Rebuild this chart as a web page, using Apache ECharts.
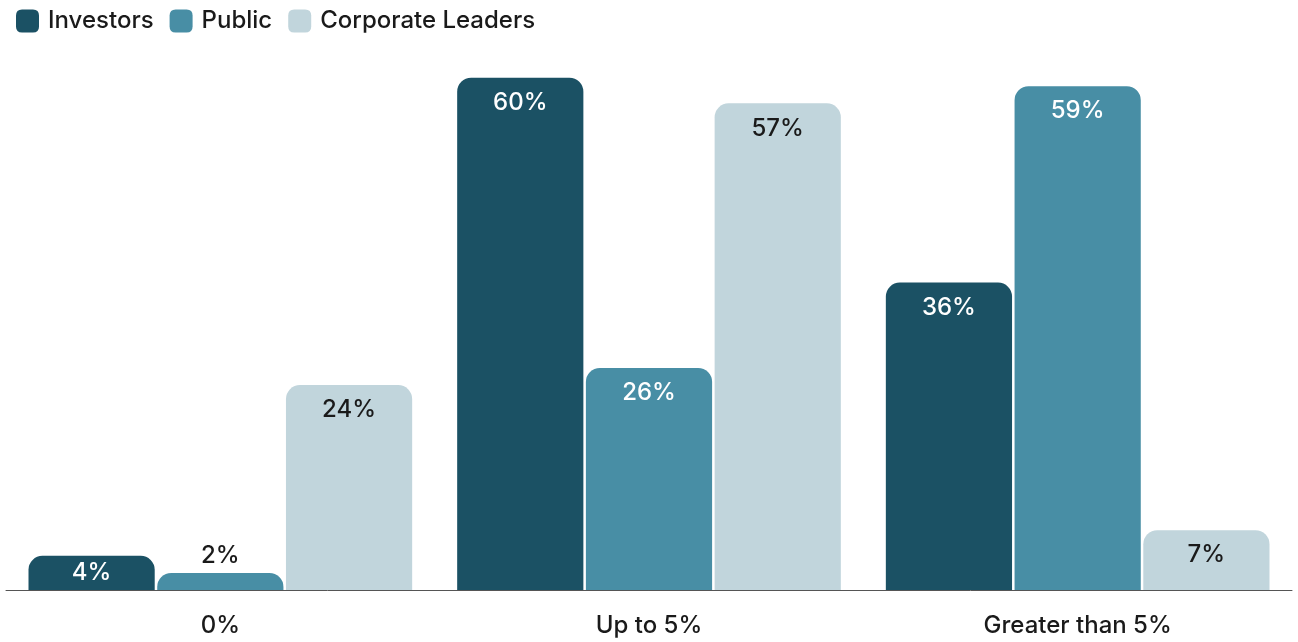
<!DOCTYPE html>
<html>
<head>
<meta charset="utf-8">
<script src="https://cdn.jsdelivr.net/npm/echarts@6/dist/echarts.min.js"></script>
<style>
  html, body { margin: 0; padding: 0; background: #ffffff; }
  #chart { width: 1298px; height: 642px; }
</style>
</head>
<body>
<div id="chart"></div>
<script>
// Share of each group choosing each option
const categories = ['0%', 'Up to 5%', 'Greater than 5%'];
const investors = [4, 60, 36];
const publicVals = [2, 26, 59];
const corporateLeaders = [24, 57, 7];
const seriesNames = ['Investors', 'Public', 'Corporate Leaders'];
const colors = ['#1b5164', '#488ea5', '#c1d5dc'];
const labelColors = ['#ffffff', '#ffffff', '#1a1a1a'];

const FONT = 'Inter, Lato, sans-serif';

function labelFor(v, idx) {
  // small bars get their label centred, tiny ones sit above the bar
  if (v <= 2) return { position: 'top', distance: 5, color: '#1a1a1a' };
  if (v <= 5) return { position: 'inside', color: labelColors[idx] };
  return { position: 'insideTop', distance: 13, color: labelColors[idx] };
}

function buildSeries(name, values, idx) {
  return {
    name: name,
    type: 'bar',
    barGap: '2%',
    barCategoryGap: '10.5%',
    itemStyle: { color: colors[idx], borderRadius: [14, 14, 0, 0] },
    data: values.map(v => ({
      value: v,
      label: Object.assign({
        show: true,
        formatter: '{c}%',
        fontSize: 24,
        fontFamily: FONT,
        fontWeight: 500
      }, labelFor(v, idx))
    }))
  };
}

const chart = echarts.init(document.getElementById('chart'));
chart.setOption({
  animation: false,
  color: colors,
  legend: {
    left: 16,
    top: 9,
    padding: 0,
    itemWidth: 23,
    itemHeight: 23,
    itemGap: 16,
    icon: 'path://M6,0 H17 Q23,0 23,6 V17 Q23,23 17,23 H6 Q0,23 0,17 V6 Q0,0 6,0 Z',
    textStyle: { fontSize: 24, fontFamily: FONT, fontWeight: 500, color: '#1a1a1a', padding: [0, 0, 0, 4] },
    data: seriesNames
  },
  grid: { left: 6, right: 6, top: 35, bottom: 52, containLabel: false },
  xAxis: {
    type: 'category',
    data: categories,
    axisLine: { lineStyle: { color: '#555555', width: 1 } },
    axisTick: { show: false },
    axisLabel: { margin: 24, fontSize: 24, fontFamily: FONT, fontWeight: 500, color: '#1a1a1a' }
  },
  yAxis: {
    type: 'value',
    min: 0,
    max: 65,
    show: false,
    splitLine: { show: false }
  },
  series: [
    buildSeries(seriesNames[0], investors, 0),
    buildSeries(seriesNames[1], publicVals, 1),
    buildSeries(seriesNames[2], corporateLeaders, 2)
  ]
});
</script>
</body>
</html>
